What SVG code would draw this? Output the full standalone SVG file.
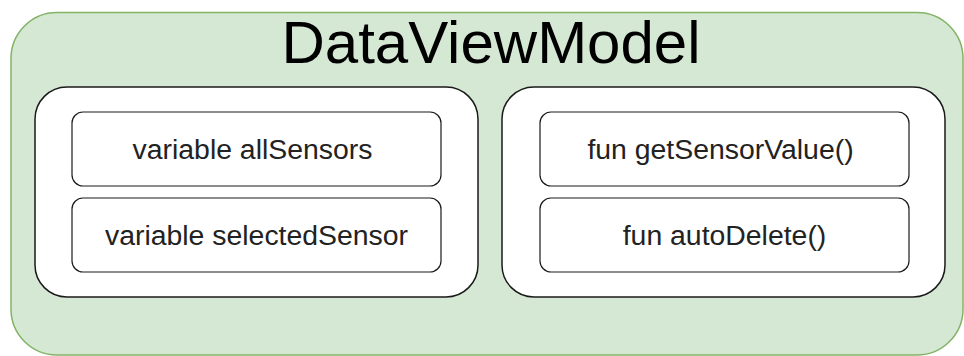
<svg xmlns="http://www.w3.org/2000/svg" width="964" height="356" viewBox="0 0 964 356">
  <style>
    .outer { fill: #d5e8d4; stroke: #82b366; stroke-width: 1.5; }
    .panel { fill: #ffffff; stroke: #1a1a1a; stroke-width: 1.5; }
    .item { fill: #ffffff; stroke: #1a1a1a; stroke-width: 1.2; }
    .title { font-family: "Liberation Sans", Arial, sans-serif; font-size: 60px; fill: #000000; text-anchor: middle; }
    .label { font-family: "Liberation Sans", Arial, sans-serif; font-size: 28.4px; fill: #222222; text-anchor: middle; }
  </style>

  <!-- container -->
  <g id="dataviewmodel">
    <rect class="outer" x="11" y="12.5" width="952" height="342.5" rx="46" ry="46"/>
    <text class="title" x="491" y="63">DataViewModel</text>
  </g>

  <!-- variables panel -->
  <g id="variables-panel">
    <rect class="panel" x="35" y="87" width="443" height="210" rx="32" ry="32"/>
  </g>
  <g id="var-allSensors">
    <rect class="item" x="72" y="112" width="369" height="74" rx="11" ry="11"/>
    <text class="label" x="252.5" y="158.5">variable allSensors</text>
  </g>
  <g id="var-selectedSensor">
    <rect class="item" x="72" y="198" width="369" height="74" rx="11" ry="11"/>
    <text class="label" x="256.5" y="244.5">variable selectedSensor</text>
  </g>

  <!-- functions panel -->
  <g id="functions-panel">
    <rect class="panel" x="502" y="87" width="443" height="210" rx="32" ry="32"/>
  </g>
  <g id="fun-getSensorValue">
    <rect class="item" x="540" y="112" width="369" height="74" rx="11" ry="11"/>
    <text class="label" x="720.5" y="158.5">fun getSensorValue()</text>
  </g>
  <g id="fun-autoDelete">
    <rect class="item" x="540" y="198" width="369" height="74" rx="11" ry="11"/>
    <text class="label" x="724.5" y="244.5">fun autoDelete()</text>
  </g>

  <g id="connectors"/>
</svg>
